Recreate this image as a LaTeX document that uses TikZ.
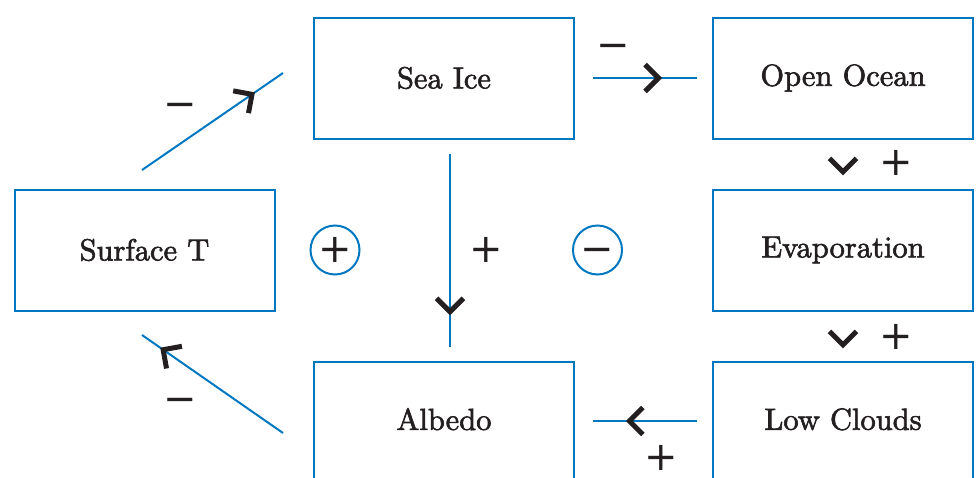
\documentclass[tikz,border=0pt]{standalone}
\usepackage{fontspec}
\newfontfamily\boxfont{lmroman10-regular.otf}[FakeBold=2]
\newfontfamily\signfont{DejaVu Sans}
\usetikzlibrary{calc,decorations.markings}
\definecolor{linkblue}{RGB}{0,120,193}
\definecolor{ink}{RGB}{35,31,32}
\tikzset{
  stage/.style={draw=linkblue, line width=2, rectangle, minimum width=260,
    minimum height=121, inner sep=0, text=ink,
    font=\boxfont\fontsize{30.5}{36}\selectfont},
  lowrow/.style={text depth=6},
  link/.style={draw=linkblue, line width=2},
  loopsign/.style={draw=linkblue, line width=2, circle, minimum size=49,
    inner sep=0, text=ink, font=\signfont\fontsize{40}{44}\selectfont},
  sign/.style={text=ink, inner sep=0, font=\signfont\fontsize{40}{44}\selectfont},
  chevron/.style={draw=ink, line width=5, line cap=butt, line join=miter},
  chev/.style={postaction={decorate}, decoration={markings,
    mark=at position #1 with {\draw[chevron] (-13.5,13.5) -- (0,0) -- (-13.5,-13.5);}}},
}
\newcommand{\minussign}{\vphantom{+}−}
\begin{document}
\begin{tikzpicture}[x=1pt, y=-1pt]
\useasboundingbox (0,0) rectangle (978,477);

% stages of the feedback loops
\node[stage] (seaice) at (444,78)  {Sea Ice};
\node[stage] (ocean)  at (843,78)  {Open Ocean};
\node[stage] (surf)   at (144.5,250) {Surface T};
\node[stage] (evap)   at (843,250) {Evaporation};
\node[stage, lowrow] (albedo) at (444,422) {Albedo};
\node[stage, lowrow] (low)    at (843,422) {Low Clouds};

% loop polarity markers
\node[loopsign] (posloop) at (335,250) {+};
\node[loopsign] (negloop) at (597.5,250) {\minussign};

% free ends of the diagonal links
\coordinate (surfout)  at (142,170);
\coordinate (seaicein) at (283,73);
\coordinate (albout)   at (283,433);
\coordinate (surfin)   at (142,335);

% links with their direction chevrons
\draw[link, chev=0.78] (surfout) -- (seaicein);
\draw[link, chev=0.63] ($(seaice.east)+(18,0)$) -- ($(ocean.west)+(-15,0)$);
\path[chev=0.66] (ocean.south) -- (evap.north);
\path[chev=0.68] (evap.south) -- (low.north);
\draw[link, chev=0.82] ($(seaice.south)+(6,14)$) -- ($(albedo.north)+(6,-14)$);
\draw[link, chev=0.65] ($(low.west)+(-15,-1)$) -- ($(albedo.east)+(18,-1)$);
\draw[link, chev=0.85] (albout) -- (surfin);

% link signs
\node[sign] (s1) at (180,105) {\minussign};
\node[sign] (s2) at (613,46)  {\minussign};
\node[sign] (s3) at (486,250) {+};
\node[sign] (s4) at (896,163) {+};
\node[sign] (s5) at (896,337) {+};
\node[sign] (s6) at (661,458) {+};
\node[sign] (s7) at (180,400) {\minussign};
\end{tikzpicture}
\end{document}
